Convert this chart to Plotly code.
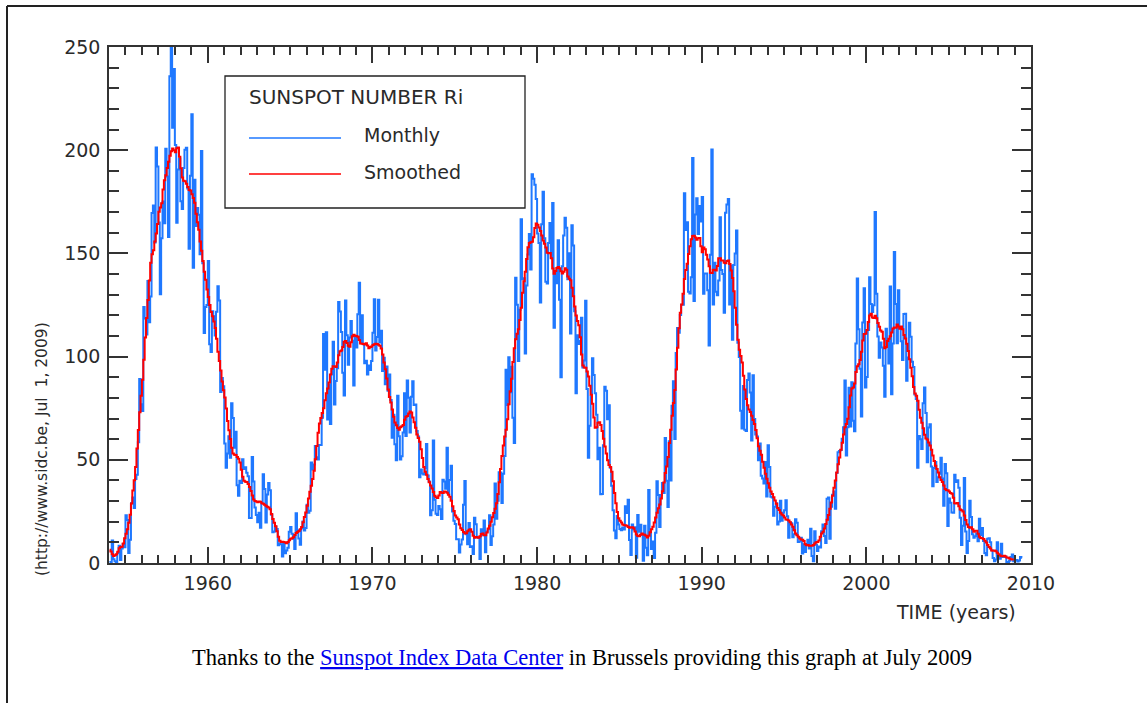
import plotly.graph_objects as go

# ---------------- data ----------------
first_year = 1954

# Monthly sunspot number Ri, Jan 1954 .. Jun 2009
monthly_ri = [
    0.2, 0.5, 10.9, 1.8, 0.8, 0.2, 4.8, 8.4, 1.5, 7.0, 9.2, 7.6,
    23.1, 20.8, 4.9, 11.3, 28.9, 31.7, 26.7, 40.7, 42.7, 58.5, 89.2, 76.9,
    73.6, 124.0, 118.4, 110.7, 136.6, 116.6, 129.1, 169.6, 173.2, 155.3, 201.3, 192.1,
    165.0, 130.2, 157.4, 175.2, 164.6, 200.7, 187.2, 158.0, 235.8, 253.8, 210.9, 239.4,
    202.5, 164.9, 190.7, 196.0, 175.3, 171.5, 191.4, 200.2, 201.2, 181.5, 152.3, 187.6,
    217.4, 143.1, 185.7, 163.3, 172.0, 168.7, 149.6, 199.6, 145.2, 111.4, 124.0, 125.0,
    146.3, 106.0, 102.2, 122.0, 119.6, 110.2, 121.7, 134.1, 127.2, 82.8, 89.6, 85.6,
    57.9, 46.1, 53.0, 61.4, 51.0, 77.4, 70.2, 55.8, 63.6, 37.7, 32.6, 39.9,
    38.7, 50.3, 45.6, 46.4, 43.7, 42.0, 21.8, 21.8, 51.3, 39.5, 26.9, 23.2,
    19.8, 24.4, 17.1, 29.3, 43.0, 35.9, 19.6, 33.2, 38.8, 35.3, 23.4, 14.9,
    15.3, 17.7, 16.5, 8.6, 9.5, 9.1, 3.1, 9.3, 4.7, 6.1, 7.4, 15.1,
    17.5, 14.2, 11.7, 6.8, 24.1, 15.9, 11.9, 8.9, 16.8, 20.1, 15.8, 17.0,
    28.2, 24.4, 25.3, 48.7, 45.3, 47.7, 56.7, 51.2, 50.2, 57.2, 57.2, 70.4,
    110.9, 93.6, 111.8, 69.5, 86.5, 67.3, 91.5, 107.2, 76.8, 88.2, 94.3, 126.4,
    121.8, 111.9, 92.2, 81.2, 127.2, 110.3, 96.1, 109.3, 117.2, 107.7, 86.0, 109.8,
    104.4, 120.5, 135.8, 106.8, 120.0, 106.0, 96.8, 98.0, 91.3, 95.7, 93.5, 97.9,
    111.5, 127.8, 102.9, 109.5, 127.5, 106.8, 112.5, 93.0, 99.5, 86.6, 95.2, 83.5,
    91.3, 79.0, 60.7, 71.8, 57.5, 49.8, 81.0, 61.4, 50.2, 51.7, 63.2, 82.2,
    61.5, 88.4, 80.1, 63.2, 80.5, 88.0, 76.5, 76.8, 64.0, 61.3, 41.6, 45.3,
    43.4, 42.9, 46.0, 57.7, 42.4, 39.5, 23.1, 25.6, 59.3, 30.7, 23.9, 23.3,
    27.6, 26.0, 21.3, 40.3, 39.5, 36.0, 55.8, 33.6, 40.2, 47.1, 25.0, 20.5,
    18.9, 11.5, 11.5, 5.1, 9.0, 11.4, 28.2, 39.7, 13.9, 9.1, 19.4, 7.8,
    8.1, 4.3, 21.9, 18.8, 12.4, 12.2, 1.9, 16.4, 13.5, 20.6, 5.2, 15.3,
    16.4, 23.1, 8.7, 12.9, 18.6, 38.5, 21.4, 30.1, 44.0, 43.8, 29.1, 43.2,
    51.9, 93.6, 76.5, 99.7, 82.7, 95.1, 70.4, 58.1, 138.2, 125.1, 97.9, 122.7,
    166.6, 137.5, 138.0, 101.5, 134.4, 149.5, 159.4, 142.2, 188.4, 186.2, 183.3, 176.3,
    159.6, 155.0, 126.2, 164.1, 179.9, 157.3, 136.3, 135.4, 155.0, 164.7, 147.9, 174.4,
    114.0, 141.3, 135.5, 156.4, 127.5, 90.0, 143.8, 158.7, 167.3, 162.4, 137.5, 150.1,
    111.2, 163.6, 153.8, 122.0, 82.2, 110.4, 106.1, 107.6, 118.8, 94.7, 98.1, 127.0,
    84.3, 51.0, 66.5, 80.7, 99.2, 91.1, 82.2, 71.8, 50.3, 55.8, 33.3, 33.4,
    57.0, 85.4, 83.5, 69.7, 76.4, 46.1, 37.4, 25.5, 15.7, 12.0, 22.8, 18.7,
    16.5, 15.9, 17.2, 16.2, 27.5, 24.2, 30.7, 11.1, 3.9, 18.6, 16.2, 17.3,
    2.5, 23.2, 15.1, 18.5, 13.7, 1.1, 18.1, 7.4, 3.8, 35.4, 15.2, 6.8,
    10.4, 2.4, 14.7, 39.6, 33.0, 17.4, 33.0, 38.7, 33.9, 60.6, 39.9, 27.1,
    59.0, 40.0, 76.2, 88.0, 60.1, 101.8, 113.8, 111.6, 120.1, 125.1, 125.1, 179.2,
    161.3, 165.1, 131.4, 130.6, 138.5, 196.2, 126.9, 168.9, 176.7, 159.4, 173.0, 165.5,
    177.3, 130.5, 140.3, 140.3, 132.2, 105.4, 149.4, 200.3, 125.2, 145.5, 131.4, 129.7,
    136.9, 167.5, 141.9, 140.0, 121.3, 169.7, 173.7, 176.3, 125.3, 144.1, 108.2, 144.4,
    150.0, 161.1, 106.7, 99.8, 73.8, 65.2, 85.7, 64.5, 63.9, 88.7, 91.8, 82.6,
    59.3, 91.0, 69.8, 62.2, 61.3, 49.8, 57.9, 42.3, 41.0, 38.5, 48.9, 32.2,
    57.1, 46.5, 32.1, 31.7, 22.9, 27.2, 28.9, 18.7, 20.1, 30.1, 20.5, 24.4,
    25.6, 30.4, 22.6, 12.2, 19.6, 19.2, 12.5, 13.9, 21.2, 19.5, 10.2, 10.4,
    12.2, 4.6, 9.1, 5.3, 9.2, 11.3, 7.0, 16.6, 3.4, 0.9, 15.4, 8.9,
    5.8, 8.0, 7.5, 15.4, 18.6, 13.1, 9.7, 31.1, 31.7, 11.7, 27.2, 33.1,
    34.6, 26.3, 43.6, 53.6, 54.3, 54.8, 60.2, 65.8, 88.4, 52.1, 65.8, 84.9,
    66.1, 87.6, 68.9, 63.8, 106.3, 137.8, 113.3, 94.1, 71.0, 116.5, 133.1, 85.0,
    90.1, 112.9, 138.5, 125.5, 121.6, 124.9, 170.1, 130.5, 109.7, 99.4, 106.8, 104.4,
    95.6, 80.6, 113.5, 107.7, 96.6, 134.0, 81.8, 106.4, 150.7, 125.5, 106.5, 132.2,
    114.1, 107.4, 98.4, 120.7, 120.8, 88.3, 99.6, 116.4, 109.6, 97.5, 95.0, 81.6,
    79.5, 46.2, 61.5, 60.0, 55.2, 77.4, 85.0, 72.7, 48.8, 65.6, 67.2, 46.7,
    37.2, 46.0, 48.9, 39.3, 41.5, 43.2, 51.0, 40.9, 27.7, 48.0, 43.5, 17.9,
    31.3, 29.2, 24.5, 24.4, 42.7, 39.3, 40.1, 36.4, 21.9, 8.7, 18.0, 41.2,
    15.3, 4.9, 10.6, 30.2, 22.3, 13.9, 12.2, 12.9, 14.4, 10.5, 21.4, 13.6,
    16.9, 10.6, 4.8, 3.7, 11.7, 12.0, 10.0, 6.2, 2.4, 0.9, 1.7, 10.1,
    3.4, 2.1, 9.3, 2.9, 2.9, 3.1, 0.5, 0.5, 1.1, 2.9, 4.1, 0.8,
    1.5, 1.4, 0.7, 1.2, 2.9, 2.6,
]

# Smoothed (13-month) sunspot number, Jan 1954 .. Dec 2008
smoothed_ri = [
    6.4, 5.6, 4.2, 3.4, 3.7, 4.2, 5.4, 7.2, 7.8, 7.9, 9.5, 12.0,
    14.2, 16.4, 19.5, 23.4, 28.8, 35.1, 40.1, 46.5, 55.5, 64.4, 73.0, 81.0,
    88.8, 98.5, 109.3, 118.7, 127.4, 136.9, 145.5, 149.6, 151.5, 155.8, 159.6, 164.3,
    170.2, 172.2, 174.3, 181.0, 185.5, 187.9, 191.4, 194.4, 197.3, 199.5, 200.8, 200.0,
    199.0, 200.9, 201.3, 196.8, 191.3, 186.8, 185.2, 184.9, 183.8, 182.2, 180.7, 180.5,
    178.6, 176.9, 174.5, 169.2, 165.1, 161.4, 155.8, 151.3, 146.3, 141.1, 137.2, 132.5,
    128.9, 125.0, 121.6, 119.6, 117.0, 113.9, 108.6, 102.4, 97.9, 93.3, 87.9, 83.7,
    80.2, 74.8, 68.8, 64.3, 60.1, 55.8, 53.1, 52.5, 52.3, 51.4, 50.5, 48.7,
    45.2, 41.8, 39.8, 39.4, 39.2, 38.3, 36.8, 34.9, 32.7, 30.8, 30.0, 29.8,
    29.4, 29.8, 29.7, 29.0, 28.7, 28.2, 27.7, 27.2, 26.9, 26.0, 23.8, 21.3,
    19.5, 17.8, 15.4, 12.7, 10.8, 10.2, 10.3, 10.2, 9.9, 9.6, 10.2, 11.0,
    11.7, 12.0, 12.5, 13.6, 14.5, 15.0, 15.5, 16.4, 17.4, 19.7, 22.3, 24.5,
    27.7, 31.3, 34.5, 37.4, 40.7, 44.7, 50.3, 56.7, 63.1, 67.6, 70.2, 72.7,
    75.0, 78.8, 82.2, 84.6, 87.5, 91.3, 94.1, 95.3, 95.3, 95.0, 97.1, 100.6,
    102.6, 102.9, 104.7, 107.2, 107.6, 106.6, 105.2, 104.8, 107.0, 109.9, 110.6, 110.1,
    110.0, 109.6, 108.0, 106.4, 106.2, 106.1, 105.9, 106.5, 105.4, 104.1, 104.6, 104.9,
    105.6, 106.0, 106.2, 106.1, 105.8, 105.3, 103.9, 101.0, 97.2, 93.9, 89.4, 84.1,
    80.4, 77.8, 74.4, 70.9, 68.1, 66.7, 65.4, 64.6, 65.8, 66.2, 66.8, 69.4,
    70.8, 71.2, 72.4, 73.4, 72.9, 70.5, 68.2, 65.5, 62.2, 60.6, 58.7, 55.1,
    50.9, 46.5, 44.2, 42.7, 40.7, 39.1, 37.5, 36.1, 34.4, 32.6, 31.8, 31.5,
    32.7, 34.4, 34.0, 33.9, 34.6, 34.5, 34.0, 33.1, 32.1, 30.2, 27.5, 25.2,
    23.0, 22.1, 21.2, 18.6, 16.8, 16.0, 15.0, 14.3, 14.4, 15.4, 16.1, 16.3,
    15.2, 13.2, 12.2, 12.6, 12.5, 12.2, 12.9, 14.0, 14.3, 13.5, 13.5, 14.8,
    16.7, 18.1, 20.0, 22.2, 24.2, 26.3, 29.0, 33.4, 39.1, 45.6, 51.9, 56.9,
    61.3, 64.5, 69.6, 76.9, 83.2, 89.3, 97.4, 104.0, 108.4, 111.1, 113.3, 117.7,
    123.7, 130.9, 136.5, 141.1, 147.3, 153.0, 155.0, 155.4, 155.7, 157.8, 162.3, 164.5,
    163.9, 162.6, 160.9, 158.7, 156.3, 154.7, 152.8, 150.3, 150.1, 150.2, 147.7, 142.7,
    140.2, 141.5, 142.9, 143.4, 142.8, 141.4, 140.3, 141.1, 142.8, 142.1, 138.8, 137.7,
    137.0, 133.3, 129.2, 124.3, 119.9, 117.3, 115.2, 109.4, 101.0, 95.7, 94.7, 94.6,
    92.8, 90.3, 85.9, 81.5, 77.1, 70.5, 65.5, 65.8, 67.9, 68.2, 66.8, 63.9,
    60.2, 56.4, 53.0, 49.8, 47.5, 46.5, 44.2, 39.6, 33.9, 28.9, 24.7, 21.7,
    20.5, 19.6, 18.6, 18.3, 18.3, 18.0, 17.4, 17.1, 17.3, 17.3, 16.8, 15.3,
    13.8, 13.1, 13.0, 13.7, 14.3, 13.8, 13.7, 13.2, 12.3, 13.2, 14.9, 16.3,
    17.6, 19.6, 22.1, 24.4, 26.5, 28.4, 31.2, 34.8, 39.0, 43.6, 46.7, 51.3,
    58.2, 64.6, 71.3, 77.5, 83.8, 93.7, 104.3, 113.7, 121.2, 125.3, 130.4, 137.6,
    142.0, 145.0, 149.7, 153.5, 156.9, 158.4, 158.5, 157.7, 156.6, 157.4, 157.5, 153.5,
    150.6, 152.9, 152.0, 149.3, 147.0, 143.8, 140.6, 140.5, 142.1, 142.1, 141.7, 143.9,
    147.6, 147.6, 146.6, 146.5, 145.5, 145.2, 146.3, 146.6, 144.9, 141.7, 138.1, 131.7,
    123.7, 115.4, 108.2, 103.3, 100.3, 97.1, 90.7, 84.0, 79.5, 76.4, 74.4, 73.2,
    71.4, 69.3, 67.4, 64.4, 60.5, 56.6, 54.4, 52.5, 49.1, 46.2, 43.3, 40.8,
    38.6, 36.5, 34.6, 33.4, 31.8, 30.3, 28.7, 26.7, 25.7, 24.4, 23.5, 23.0,
    22.0, 21.1, 21.0, 20.6, 19.7, 18.7, 17.6, 15.9, 14.3, 13.4, 12.7, 11.9,
    11.4, 11.3, 10.6, 9.1, 8.6, 8.7, 8.4, 8.3, 8.3, 8.7, 9.5, 10.0,
    10.2, 10.9, 12.7, 14.3, 15.2, 16.7, 18.9, 20.9, 23.2, 26.3, 29.3, 32.6,
    36.4, 40.0, 43.8, 47.8, 51.1, 54.9, 58.3, 62.2, 65.8, 67.3, 69.9, 75.5,
    81.2, 84.6, 85.0, 87.0, 92.5, 95.3, 96.3, 98.3, 102.3, 107.8, 111.0, 111.1,
    112.9, 116.8, 119.9, 120.8, 119.0, 118.7, 119.8, 118.6, 116.3, 114.5, 112.7, 112.0,
    108.7, 104.0, 104.7, 107.5, 108.6, 109.8, 111.7, 113.6, 114.1, 114.0, 115.5, 114.6,
    113.5, 114.6, 113.3, 110.5, 108.8, 106.2, 102.7, 98.7, 94.6, 90.5, 85.3, 82.1,
    81.0, 78.6, 74.2, 70.4, 67.9, 65.3, 62.1, 60.3, 59.8, 58.4, 56.9, 54.9,
    52.1, 49.4, 47.1, 45.5, 43.8, 41.6, 40.2, 39.2, 37.5, 35.9, 35.3, 35.2,
    34.6, 33.9, 33.5, 31.6, 28.9, 28.8, 29.1, 27.5, 25.9, 25.5, 24.9, 23.0,
    20.8, 18.7, 17.4, 17.1, 17.3, 16.3, 15.2, 15.6, 15.6, 14.2, 12.7, 12.1,
    12.0, 11.6, 10.8, 9.9, 8.7, 7.7, 7.0, 6.1, 5.9, 6.1, 5.7, 5.0,
    4.2, 3.6, 3.3, 3.3, 3.5, 3.2, 2.7, 2.6, 2.2, 1.8, 1.7, 1.7,
]

x_ticks = [1960, 1970, 1980, 1990, 2000, 2010]
y_ticks = [0, 50, 100, 150, 200, 250]

# decimal-year time stamps (month centres)
t_monthly = [first_year + (i + 0.5) / 12.0 for i in range(len(monthly_ri))]
t_smoothed = [first_year + (i + 0.5) / 12.0 for i in range(len(smoothed_ri))]

# ---------------- style ----------------
W, H = 1147, 703
ML, MR, MT, MB = 109, 116, 47, 140
PW, PH = W - ML - MR, H - MT - MB
BLUE = "#1f78ff"
RED = "#ff0000"
AX = "#333333"
TXT = "#2a2a2a"
SANS = "DejaVu Sans"


def px(xp):
    return (xp - ML) / PW


def py(yp):
    return (H - MB - yp) / PH


fig = go.Figure()
fig.add_trace(go.Scatter(x=t_monthly, y=monthly_ri, mode="lines", line_shape="hvh",
                         line=dict(color=BLUE, width=2), name="Monthly",
                         showlegend=False, hoverinfo="skip"))
fig.add_trace(go.Scatter(x=t_smoothed, y=smoothed_ri, mode="lines", line_shape="hvh",
                         line=dict(color=RED, width=2), name="Smoothed",
                         showlegend=False, hoverinfo="skip"))
# empty trace so that the mirrored (top/right) axes are drawn
fig.add_trace(go.Scatter(x=[], y=[], xaxis="x2", yaxis="y2", showlegend=False, hoverinfo="skip"))

xcommon = dict(range=[1954, 2010], tickvals=x_ticks, ticks="inside", ticklen=16, tickwidth=1.5,
               tickcolor=AX, showline=True, linecolor=AX, linewidth=1.5, showgrid=False,
               zeroline=False, fixedrange=True,
               minor=dict(dtick=1, tick0=1954, ticks="inside", ticklen=8, tickwidth=1.5,
                          tickcolor=AX, showgrid=False))
ycommon = dict(range=[0, 250], tickvals=y_ticks, ticks="inside", ticklen=19, tickwidth=1.5,
               tickcolor=AX, showline=True, linecolor=AX, linewidth=1.5, showgrid=False,
               zeroline=False, fixedrange=True,
               minor=dict(dtick=10, tick0=0, ticks="inside", ticklen=10, tickwidth=1.5,
                          tickcolor=AX, showgrid=False))

fig.update_layout(
    width=W, height=H, autosize=False,
    margin=dict(l=ML, r=MR, t=MT, b=MB, pad=0),
    paper_bgcolor="white", plot_bgcolor="white",
    showlegend=False,
    xaxis=dict(**xcommon, ticktext=[str(v) for v in x_ticks], side="bottom",
               tickfont=dict(family=SANS, size=19, color=TXT), ticklabelstandoff=2),
    yaxis=dict(**ycommon, ticktext=[str(v) for v in y_ticks], side="left",
               tickfont=dict(family=SANS, size=19, color=TXT), ticklabelstandoff=3),
    xaxis2=dict(**xcommon, overlaying="x", side="top", anchor="y", showticklabels=False),
    yaxis2=dict(**ycommon, overlaying="y", side="right", anchor="x", showticklabels=False),
)

shapes = []
# outer page border (top and left)
shapes.append(dict(type="line", xref="paper", yref="paper", x0=px(7), x1=px(W + 5),
                   y0=py(6), y1=py(6), line=dict(color="#222222", width=2)))
shapes.append(dict(type="line", xref="paper", yref="paper", x0=px(7), x1=px(7),
                   y0=py(6), y1=py(H + 5), line=dict(color="#222222", width=2)))
# legend box
shapes.append(dict(type="rect", xref="paper", yref="paper", x0=px(225), x1=px(525),
                   y0=py(208), y1=py(76), line=dict(color="#222222", width=1.3),
                   fillcolor="white"))
shapes.append(dict(type="line", xref="paper", yref="paper", x0=px(249), x1=px(341),
                   y0=py(138), y1=py(138), line=dict(color=BLUE, width=1.5)))
shapes.append(dict(type="line", xref="paper", yref="paper", x0=px(249), x1=px(341),
                   y0=py(174), y1=py(174), line=dict(color=RED, width=1.5)))
fig.update_layout(shapes=shapes)

ann = []
ann.append(dict(xref="paper", yref="paper", x=px(247), y=py(97), xanchor="left", yanchor="middle",
                text="SUNSPOT NUMBER Ri", showarrow=False,
                font=dict(family=SANS, size=20, color=TXT)))
ann.append(dict(xref="paper", yref="paper", x=px(362), y=py(135), xanchor="left", yanchor="middle",
                text="Monthly", showarrow=False, font=dict(family=SANS, size=19, color=TXT)))
ann.append(dict(xref="paper", yref="paper", x=px(362), y=py(172), xanchor="left", yanchor="middle",
                text="Smoothed", showarrow=False, font=dict(family=SANS, size=19, color=TXT)))
ann.append(dict(xref="paper", yref="paper", x=px(956), y=py(612), xanchor="center", yanchor="middle",
                text="TIME (years)", showarrow=False, font=dict(family=SANS, size=19, color=TXT)))
ann.append(dict(xref="paper", yref="paper", x=px(42), y=py(449), xanchor="center", yanchor="middle",
                text="(http://www.sidc.be, Jul\u00a0 1, 2009)", textangle=-90, showarrow=False,
                font=dict(family=SANS, size=15.5, color=TXT)))
ann.append(dict(xref="paper", yref="paper", x=px(582), y=py(658), xanchor="center", yanchor="middle",
                text=("Thanks to the <a href=\"http://sidc.oma.be/\" "
                      "style=\"color:#0000EE;text-decoration:underline\">Sunspot Index Data Center</a>"
                      " in Brussels providing this graph at July 2009"),
                showarrow=False, font=dict(family="Liberation Serif", size=22.5, color="black")))
fig.update_layout(annotations=ann)

fig.write_html("out.html", config={"displayModeBar": False},
               post_script="document.body.style.margin='0';")
